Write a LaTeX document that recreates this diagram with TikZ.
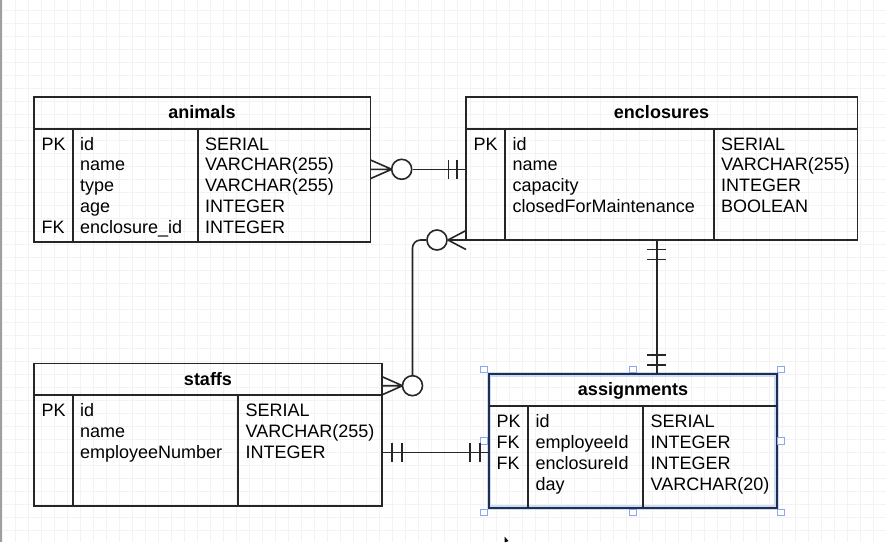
\documentclass[tikz,border=0pt]{standalone}
\usepackage{fontspec}
\setmainfont{Liberation Sans}
\definecolor{gridc}{HTML}{F3F3F3}
\definecolor{linec}{HTML}{262626}
\definecolor{selnavy}{HTML}{1E2F4F}
\definecolor{selglow}{HTML}{B9CCF2}
\definecolor{handleblue}{HTML}{8DA6F2}
\tikzset{
  tblbox/.style={draw=linec, line width=1.8pt},
  tblline/.style={draw=linec, line width=1.8pt},
  cell/.style={anchor=base west, inner sep=0pt, font=\fontsize{18}{20}\selectfont, text=black},
  hdr/.style={anchor=base, inner sep=0pt, font=\fontsize{18}{20}\selectfont\bfseries, text=black},
  conn/.style={draw=linec, line width=1.6pt},
  ring/.style={circle, draw=linec, line width=1.6pt, fill=white, minimum size=20pt, inner sep=0pt},
  handle/.style={rectangle, draw=handleblue, fill=white, line width=0.9pt, minimum size=6.5pt, inner sep=0pt},
}
\begin{document}
\begin{tikzpicture}[x=1pt,y=-1pt]
\useasboundingbox (0,0) rectangle (886,542);
% background grid
\fill[white] (0,0) rectangle (886,542);
\foreach \gx in {2,15,...,886} {\draw[gridc, line width=0.8pt] (\gx,0) -- (\gx,542);}
\foreach \gy in {10,23,...,542} {\draw[gridc, line width=0.8pt] (0,\gy) -- (886,\gy);}
\fill[gray!75] (0,0) rectangle (2,542);

% ---------- animals ----------
\draw[tblbox] (34,97) rectangle (370.5,242);
\draw[tblline] (34,129) -- (370.5,129);
\draw[tblline] (72.7,129) -- (72.7,242);
\draw[tblline] (198.3,129) -- (198.3,242);
\node[hdr] (anT) at (202,118.5) {animals};
\node[cell] (anK1) at (41.5,150) {PK};
\node[cell] (anK5) at (41.5,233.2) {FK};
\node[cell] (anF1) at (80,150) {id};
\node[cell] (anF2) at (80,170.8) {name};
\node[cell] (anF3) at (80,191.6) {type};
\node[cell] (anF4) at (80,212.4) {age};
\node[cell] (anF5) at (80,233.2) {enclosure\_id};
\node[cell] (anY1) at (205,150) {SERIAL};
\node[cell] (anY2) at (205,170.8) {VARCHAR(255)};
\node[cell] (anY3) at (205,191.6) {VARCHAR(255)};
\node[cell] (anY4) at (205,212.4) {INTEGER};
\node[cell] (anY5) at (205,233.2) {INTEGER};

% ---------- enclosures ----------
\draw[tblbox] (466,97) rectangle (857.5,240);
\draw[tblline] (466,129) -- (857.5,129);
\draw[tblline] (505,129) -- (505,240);
\draw[tblline] (714,129) -- (714,240);
\node[hdr] (enT) at (661.5,118.5) {enclosures};
\node[cell] (enK1) at (473.5,150) {PK};
\node[cell] (enF1) at (512.5,150) {id};
\node[cell] (enF2) at (512.5,170.8) {name};
\node[cell] (enF3) at (512.5,191.6) {capacity};
\node[cell] (enF4) at (512.5,212.4) {closedForMaintenance};
\node[cell] (enY1) at (721,150) {SERIAL};
\node[cell] (enY2) at (721,170.8) {VARCHAR(255)};
\node[cell] (enY3) at (721,191.6) {INTEGER};
\node[cell] (enY4) at (721,212.4) {BOOLEAN};

% ---------- staffs ----------
\draw[tblbox] (34,363.5) rectangle (381.7,506);
\draw[tblline] (34,395) -- (381.7,395);
\draw[tblline] (72.7,395) -- (72.7,506);
\draw[tblline] (238.3,395) -- (238.3,506);
\node[hdr] (stT) at (208,385) {staffs};
\node[cell] (stK1) at (41.5,416.4) {PK};
\node[cell] (stF1) at (80,416.4) {id};
\node[cell] (stF2) at (80,437.4) {name};
\node[cell] (stF3) at (80,458.4) {employeeNumber};
\node[cell] (stY1) at (245.5,416.4) {SERIAL};
\node[cell] (stY2) at (245.5,437.4) {VARCHAR(255)};
\node[cell] (stY3) at (245.5,458.4) {INTEGER};

% ---------- assignments (selected) ----------
\draw[selglow, line width=4.5pt, opacity=0.7] (489,374.3) rectangle (776.7,507.7);
\draw[draw=selnavy, line width=2.2pt] (489,374.3) rectangle (776.7,507.7);
\draw[tblline] (489,406) -- (776.7,406);
\draw[tblline] (528.3,406) -- (528.3,507.7);
\draw[tblline] (643,406) -- (643,507.7);
\node[hdr] (asT) at (633,395.5) {assignments};
\node[cell] (asK1) at (496.5,427.4) {PK};
\node[cell] (asK2) at (496.5,448.4) {FK};
\node[cell] (asK3) at (496.5,469.4) {FK};
\node[cell] (asF1) at (535.5,427.4) {id};
\node[cell] (asF2) at (535.5,448.4) {employeeId};
\node[cell] (asF3) at (535.5,469.4) {enclosureId};
\node[cell] (asF4) at (535.5,490.4) {day};
\node[cell] (asY1) at (650.5,427.4) {SERIAL};
\node[cell] (asY2) at (650.5,448.4) {INTEGER};
\node[cell] (asY3) at (650.5,469.4) {INTEGER};
\node[cell] (asY4) at (650.5,490.4) {VARCHAR(20)};

% selection handles
\node[handle] (h1) at (484,369.3) {};
\node[handle] (h2) at (632.7,369.3) {};
\node[handle] (h3) at (781,369.3) {};
\node[handle] (h4) at (484,440.7) {};
\node[handle] (h5) at (781,440.7) {};
\node[handle] (h6) at (484,512.3) {};
\node[handle] (h7) at (632.7,512.3) {};
\node[handle] (h8) at (781,512.3) {};

% ---------- connector: animals >O---|| enclosures ----------
\coordinate (aE) at (370.5,169.3);
\coordinate (aEt) at (370.5,160);
\coordinate (aEb) at (370.5,178.6);
\coordinate (aTip) at (391.7,169.3);
\coordinate (eW) at (466,169.3);
\node[ring] (r1) at (401.7,169.3) {};
\draw[conn] (aEt) -- (aTip) (aE) -- (aTip) (aEb) -- (aTip);
\draw[conn] (r1.east) -- (eW);
\draw[conn] (448.3,159.6) -- (448.3,179) (456.7,159.6) -- (456.7,179);

% ---------- connector: enclosures >O --- O< staffs ----------
\coordinate (eC) at (466,240);
\coordinate (eCt) at (466,230.5);
\coordinate (eCb) at (466,249.5);
\coordinate (eTip) at (448,240);
\node[ring] (r2) at (437,240) {};
\draw[conn] (eCt) -- (eTip) (eC) -- (eTip) (eCb) -- (eTip);
\node[ring] (r3) at (412.5,385.7) {};
\coordinate (bend) at (412.5,240);
\draw[conn, rounded corners=8pt] (r2.west) -- (bend) -- (r3.north);
\coordinate (sE) at (381.7,385.7);
\coordinate (sEt) at (381.7,376.5);
\coordinate (sEb) at (381.7,395);
\coordinate (sTip) at (402.5,385.7);
\draw[conn] (sEt) -- (sTip) (sE) -- (sTip) (sEb) -- (sTip);

% ---------- connector: staffs ||---|| assignments ----------
\coordinate (sR) at (381.7,452.3);
\coordinate (asL) at (489,452.3);
\draw[conn] (sR) -- (asL);
\draw[conn] (391.7,442.6) -- (391.7,462) (401.7,442.6) -- (401.7,462);
\draw[conn] (470,442.6) -- (470,462) (480,442.6) -- (480,462);

% ---------- connector: enclosures ||---|| assignments ----------
\coordinate (eB) at (656.7,240);
\coordinate (asTop) at (656.7,374.3);
\draw[conn] (eB) -- (asTop);
\draw[conn] (647,249.3) -- (666.4,249.3) (647,259.3) -- (666.4,259.3);
\draw[conn] (647,355) -- (666.4,355) (647,365) -- (666.4,365);

% mouse cursor
\fill[black] (504.5,536.5) -- (504.5,542) -- (506,542) -- (508.5,541) -- cycle;
\end{tikzpicture}
\end{document}
